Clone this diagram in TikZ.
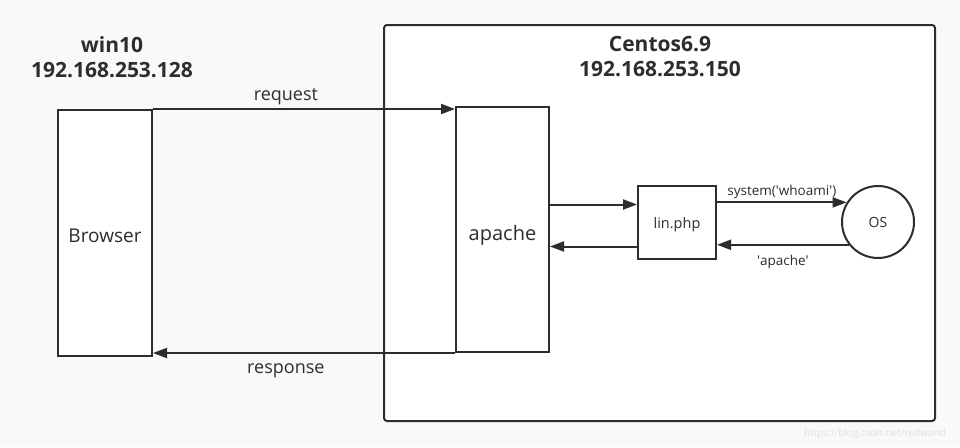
\documentclass[tikz,border=0pt]{standalone}
\usepackage{fontspec}
\setmainfont{Open Sans}
\usetikzlibrary{arrows.meta}
\definecolor{bggray}{RGB}{249,249,249}
\definecolor{linegray}{RGB}{45,45,45}

\begin{document}
\begin{tikzpicture}[x=1pt,y=-1pt,
    box/.style={draw=linegray,line width=2pt,fill=white,inner sep=0pt,text=linegray},
    conn/.style={draw=linegray,line width=2pt,-{Triangle[length=14pt,width=10pt]}},
    lbl/.style={text=linegray,inner sep=3pt},
    title/.style={text=linegray,align=center,font=\bfseries\fontsize{21}{25}\selectfont}]
    % background
    \fill[bggray] (0,0) rectangle (960,447);
    \useasboundingbox (0,0) rectangle (960,447);

    % Centos host
    \draw[box,rounded corners=3pt] (384,25) rectangle (935,421);
    \node[title] (centos) at (660,57) {Centos6.9\\192.168.253.150};

    % win10 host
    \node[title] (win) at (112,57) {win10\\192.168.253.128};
    \node[box,minimum width=94pt,minimum height=246pt,text height=20pt,font=\fontsize{19}{22}\selectfont] (browser) at (105,233) {Browser};

    % apache, lin.php and OS
    \node[box,minimum width=93pt,minimum height=245pt,text height=26pt,font=\fontsize{20}{24}\selectfont] (apache) at (502.5,229.5) {apache};
    \node[box,minimum width=78pt,minimum height=73pt,text height=16pt,font=\fontsize{14.5}{17}\selectfont] (lin) at (677,222.5) {lin.php};
    \node[box,circle,minimum size=72pt,font=\fontsize{14}{17}\selectfont] (os) at (878,222) {OS};

    % request / response
    \draw[conn] (browser.north east) -- (browser.north east -| apache.west)
        node[lbl,pos=0.44,above,font=\fontsize{18}{21}\selectfont] {request};
    \draw[conn] (apache.south west) -- (apache.south west -| browser.east)
        node[lbl,pos=0.56,below=7pt,font=\fontsize{18}{21}\selectfont] {response};

    % apache <-> lin.php
    \coordinate (in1) at ([yshift=18pt]lin.west);
    \coordinate (out1) at ([yshift=-24pt]lin.west);
    \draw[conn] (in1 -| apache.east) -- (in1);
    \draw[conn] (out1) -- (out1 -| apache.east);

    % lin.php <-> OS
    \draw[conn] (os.148 -| lin.east) -- (os.148)
        node[lbl,midway,above,font=\fontsize{13.5}{16}\selectfont] {system(\textquotesingle whoami\textquotesingle)};
    \draw[conn] (os.218) -- (os.218 -| lin.east)
        node[lbl,midway,below=6pt,font=\fontsize{13.5}{16}\selectfont] {\textquotesingle apache\textquotesingle};

    % watermark
    \node[text=black!12,font=\fontsize{10}{12}\selectfont] (mark) at (875,434) {https://blog.csdn.net/redwand};
\end{tikzpicture}
\end{document}
